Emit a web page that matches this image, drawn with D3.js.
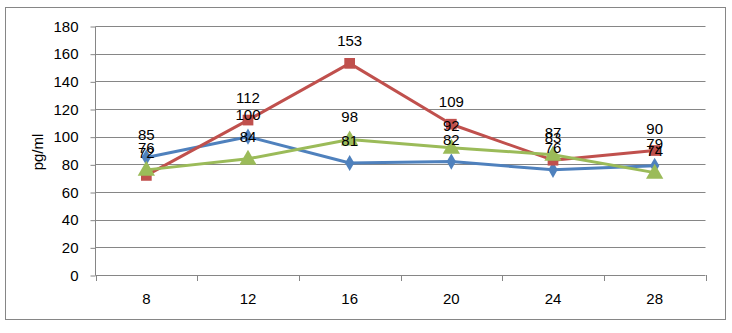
<!DOCTYPE html>
<html><head><meta charset="utf-8">
<script src="https://cdn.jsdelivr.net/npm/d3@7"></script>
<style>body{margin:0;background:#fff}svg{display:block}text{font-family:"Liberation Sans",Arial,sans-serif}</style>
</head><body><svg id="c" width="732" height="333"></svg>
<script>
const categories = [8, 12, 16, 20, 24, 28];
const seriesBlue = [85, 100, 81, 82, 76, 79];
const seriesRed = [72, 112, 153, 109, 83, 90];
const seriesGreen = [76, 84, 98, 92, 87, 74];
const yTicks = [0, 20, 40, 60, 80, 100, 120, 140, 160, 180];
const yLabel = "pg/ml";

const svg = d3.select("#c");
svg.append("rect").attr("x",5.5).attr("y",7.5).attr("width",720).attr("height",312)
  .attr("fill","#fff").attr("stroke","#868686").attr("stroke-width",1);

const L=95.5, R=705.5, T=26, B=275;
const x = d3.scaleBand().domain(categories).range([L,R]);
const y = d3.scaleLinear().domain([0,180]).range([B,T]);

svg.append("g").selectAll("line").data(yTicks.filter(d=>d>0)).join("line")
  .attr("x1",L).attr("x2",R).attr("y1",d=>Math.round(y(d))+0.5).attr("y2",d=>Math.round(y(d))+0.5)
  .attr("stroke","#868686").attr("stroke-width",1);

const yAxis = svg.append("g").attr("transform",`translate(${L},0.5)`)
  .call(d3.axisLeft(y).tickValues(yTicks).tickSize(5).tickPadding(12).tickFormat(d3.format("d")));
yAxis.select(".domain").attr("stroke","#868686").attr("d",`M0,${T}V${B}`);
yAxis.selectAll(".tick line").attr("stroke","#868686");
yAxis.selectAll(".tick text").attr("font-size",15).attr("fill","#000").attr("font-family","Liberation Sans, Arial, sans-serif");

const xAxis = svg.append("g").attr("transform",`translate(0,${B+0.5})`)
  .call(d3.axisBottom(x).tickSize(0).tickPadding(18).tickFormat(d3.format("d")));
xAxis.select(".domain").remove();
xAxis.selectAll(".tick text").attr("font-size",15).attr("fill","#000").attr("font-family","Liberation Sans, Arial, sans-serif");
const bounds = categories.map(c=>x(c)).concat([x(categories[categories.length-1])+x.bandwidth()]);
svg.append("line").attr("x1",L).attr("x2",R).attr("y1",B+0.5).attr("y2",B+0.5).attr("stroke","#868686");
svg.append("g").selectAll("line").data(bounds).join("line")
  .attr("x1",d=>Math.round(d)+0.5).attr("x2",d=>Math.round(d)+0.5).attr("y1",B).attr("y2",B+6)
  .attr("stroke","#868686");

svg.append("text").attr("transform",`translate(43,152) rotate(-90)`).attr("text-anchor","middle")
  .attr("font-size",15).text(yLabel);

const cx = c => x(c)+x.bandwidth()/2;
const series = [
  {vals:seriesBlue,color:"#4F81BD",sym:d3.symbolDiamond,size:75},
  {vals:seriesRed,color:"#C0504D",sym:d3.symbolSquare,size:115},
  {vals:seriesGreen,color:"#9BBB59",sym:d3.symbolTriangle,size:130}
];
const line = d3.line().x(d=>cx(d.c)).y(d=>y(d.v));
series.forEach(s=>{
  const pts = categories.map((c,i)=>({c,v:s.vals[i]}));
  svg.append("path").datum(pts).attr("d",line).attr("fill","none").attr("stroke",s.color)
    .attr("stroke-width",3).attr("stroke-linejoin","round");
  svg.append("g").selectAll("path").data(pts).join("path")
    .attr("transform",d=>`translate(${cx(d.c)},${y(d.v)+(s.sym===d3.symbolTriangle?1:0)})`)
    .attr("d",d3.symbol().type(s.sym).size(s.size)).attr("fill",s.color);
});
series.forEach(s=>{
  const pts = categories.map((c,i)=>({c,v:s.vals[i]}));
  svg.append("g").selectAll("text").data(pts).join("text")
    .attr("x",d=>cx(d.c)).attr("y",d=>y(d.v)-17).attr("text-anchor","middle")
    .attr("font-size",15).attr("fill","#000").text(d=>d.v);
});
</script></body></html>
